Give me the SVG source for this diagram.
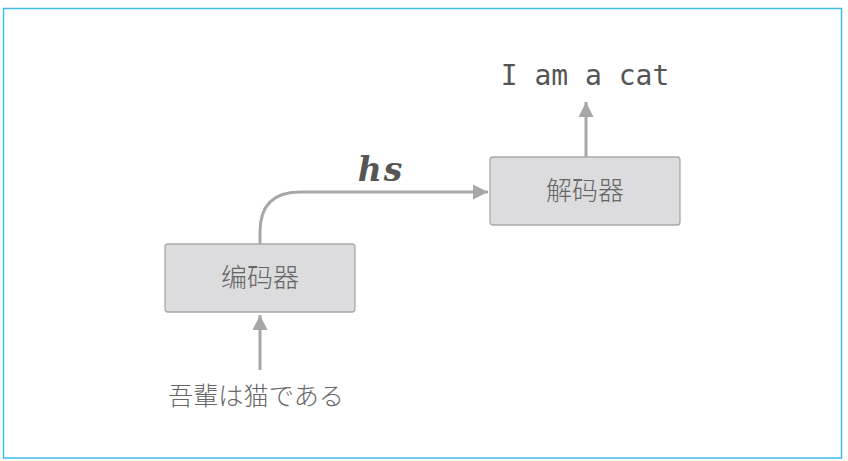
<svg xmlns="http://www.w3.org/2000/svg" width="848" height="461" viewBox="0 0 848 461">
<style>
.box{fill:#dcdcdf;stroke:#a9a9ab;stroke-width:1.3}
.lbl{font-family:"Noto Sans CJK SC","Noto Sans CJK JP",sans-serif;font-size:26px;font-weight:300;fill:#666;text-anchor:middle}
.conn{fill:none;stroke:#a7a7a9;stroke-width:3}
</style>
<defs>
<marker id="ah" viewBox="0 0 10 10" refX="10" refY="5" markerWidth="5" markerHeight="5" markerUnits="strokeWidth" orient="auto">
<path d="M0,0 L10,5 L0,10 Z" fill="#a7a7a9"/>
</marker>
</defs>
<rect x="3.5" y="8.5" width="838" height="449.5" fill="#fff" stroke="#3cbcea" stroke-width="1.5"/>
<g id="encoder">
<rect class="box" x="165" y="244" width="190" height="68" rx="3"/>
<text class="lbl" x="260" y="287">编码器</text>
</g>
<g id="decoder">
<rect class="box" x="490" y="157" width="190" height="68" rx="3"/>
<text class="lbl" x="585" y="200">解码器</text>
</g>
<g id="input">
<text x="256" y="405" font-family="Noto Sans CJK JP,sans-serif" font-weight="300" font-size="25.2" fill="#666" text-anchor="middle">吾輩は猫である</text>
</g>
<g id="output">
<text x="585" y="85" font-family="DejaVu Sans Mono,monospace" font-size="28" fill="#555" text-anchor="middle">I am a cat</text>
</g>
<g id="connectors">
<path class="conn" d="M260,370 L260,315" marker-end="url(#ah)"/>
<path class="conn" d="M260,244 L260,232 Q260,192 300,192 L488,192" marker-end="url(#ah)"/>
<path class="conn" d="M586,157 L586,102" marker-end="url(#ah)"/>
<text x="381" y="181" font-family="DejaVu Serif,serif" font-style="italic" font-weight="bold" font-size="33" fill="#555" text-anchor="middle" letter-spacing="2">hs</text>
</g>
</svg>
